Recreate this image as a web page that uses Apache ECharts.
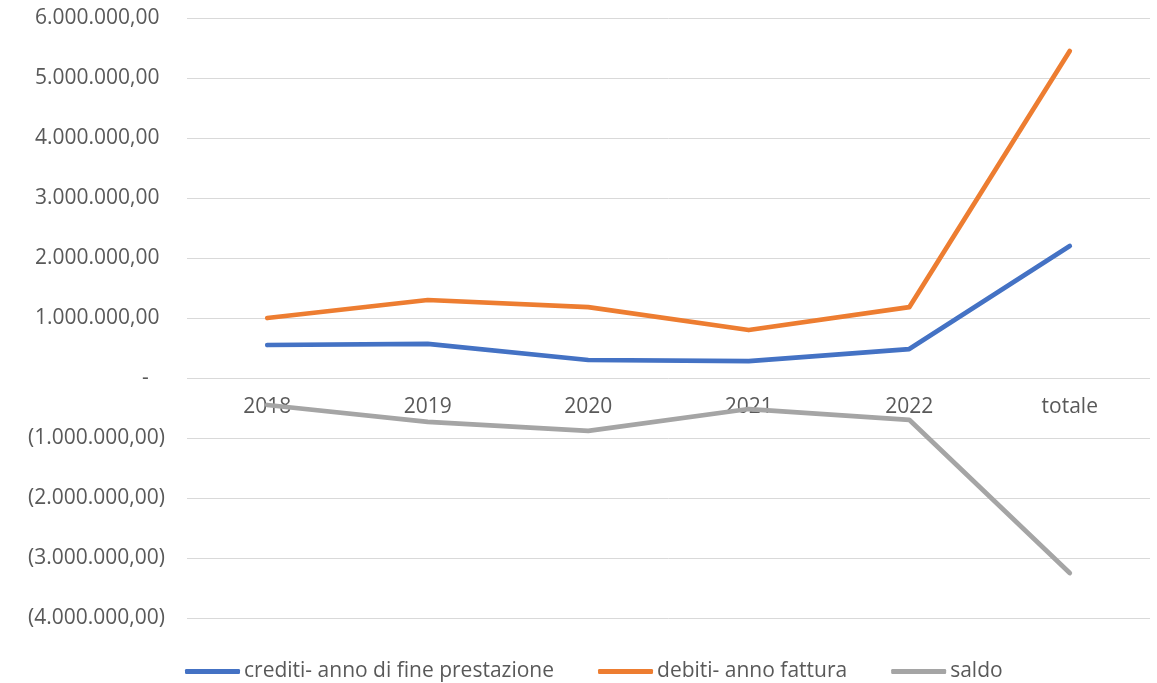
<!DOCTYPE html>
<html>
<head>
<meta charset="utf-8">
<script src="https://cdn.jsdelivr.net/npm/echarts@6/dist/echarts.min.js"></script>
<style>
  html, body { margin: 0; padding: 0; background: #fff; }
  #chart { width: 1157px; height: 683px; }
</style>
</head>
<body>
<div id="chart"></div>
<script>
// Anni di riferimento e totale
const categories = ['2018', '2019', '2020', '2021', '2022', 'totale'];

// Importi in euro
const crediti = [550000, 567000, 300000, 283000, 483000, 2200000];
const debiti = [1000000, 1300000, 1180000, 800000, 1180000, 5450000];
const saldo = [-450000, -733000, -880000, -517000, -697000, -3250000];

const seriesNames = ['crediti- anno di fine prestazione', 'debiti- anno fattura', 'saldo'];
const seriesColors = ['#4472C4', '#ED7D31', '#A5A5A5'];

const Y_MIN = -4000000;
const Y_MAX = 6000000;
const Y_STEP = 1000000;

// Formato contabile italiano: migliaia con punto, decimali con virgola, negativi tra parentesi
function formatEuro(v) {
  if (v === 0) return '-   ';
  const abs = Math.abs(v);
  const parts = abs.toFixed(2).split('.');
  const intPart = parts[0].replace(/\B(?=(\d{3})+(?!\d))/g, '.');
  const s = intPart + ',' + parts[1];
  return v < 0 ? '(' + s + ')' : s + ' ';
}

const font = 'Open Sans';
const fontSize = 21;
const textColor = '#595959';

const gridTop = 18;
const gridBottom = 65;
const chartHeight = 683;
// the category labels sit just below the zero line
const plotHeight = chartHeight - gridTop - gridBottom;
const zeroOffset = -plotHeight * (0 - Y_MIN) / (Y_MAX - Y_MIN);

const chart = echarts.init(document.getElementById('chart'));
chart.setOption({
  animation: false,
  color: seriesColors,
  grid: { left: 187, right: 7, top: gridTop, bottom: gridBottom, containLabel: false },
  legend: {
    top: 656,
    left: 180,
    itemWidth: 55,
    itemHeight: 5,
    itemGap: 44,
    icon: 'roundRect',
    textStyle: { fontFamily: font, fontSize: fontSize, color: textColor, padding: [0, 0, 0, -1] },
    data: seriesNames
  },
  xAxis: {
    type: 'category',
    data: categories,
    boundaryGap: true,
    position: 'bottom',
    offset: zeroOffset,
    axisLine: { show: false, onZero: false },
    axisTick: { show: false },
    axisLabel: { fontFamily: font, fontSize: fontSize, color: textColor, margin: 19 },
    splitLine: { show: false }
  },
  yAxis: {
    type: 'value',
    min: Y_MIN,
    max: Y_MAX,
    interval: Y_STEP,
    axisLine: { show: false },
    axisTick: { show: false },
    axisLabel: { fontFamily: font, fontSize: fontSize, color: textColor, margin: 22, formatter: formatEuro },
    splitLine: { lineStyle: { color: '#d9d9d9', width: 1 } }
  },
  series: [
    { name: seriesNames[0], data: crediti },
    { name: seriesNames[1], data: debiti },
    { name: seriesNames[2], data: saldo }
  ].map(s => Object.assign(s, {
    type: 'line',
    showSymbol: false,
    symbol: 'none',
    lineStyle: { width: 4.75, cap: 'round', join: 'round' }
  }))
});
</script>
</body>
</html>
